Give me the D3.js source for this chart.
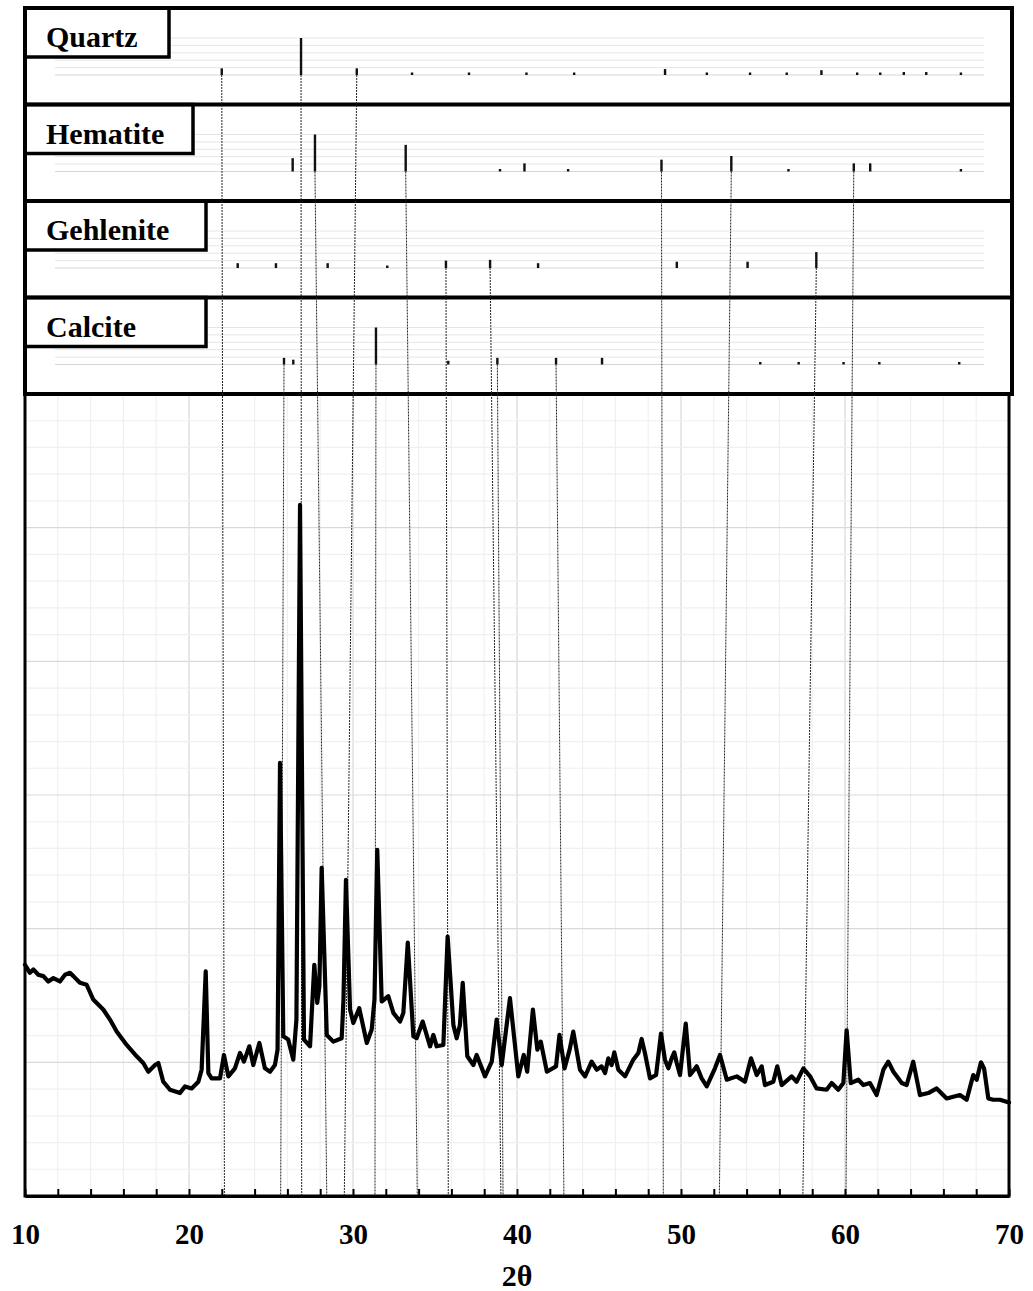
<!DOCTYPE html>
<html>
<head>
<meta charset="utf-8">
<script src="https://cdn.jsdelivr.net/npm/d3@7"></script>
<style>
  body { margin: 0; background: #fff; }
  text { font-family: "Liberation Serif", "Times New Roman", serif; font-weight: bold; fill: #000; }
</style>
</head>
<body>
<div id="drawing_region"></div>
<script>
const two_theta = [
    10.00, 10.30, 10.51, 10.81, 11.12, 11.42, 11.73, 12.13, 12.44, 12.74,
    12.95, 13.35, 13.76, 14.16, 14.77, 15.18, 15.59, 16.20, 16.81, 17.21,
    17.52, 17.93, 18.13, 18.43, 18.84, 19.45, 19.76, 20.16, 20.57, 20.77,
    21.02, 21.18, 21.38, 21.89, 22.13, 22.40, 22.80, 23.11, 23.35, 23.68,
    23.92, 24.29, 24.63, 24.94, 25.24, 25.40, 25.55, 25.75, 26.05, 26.36,
    26.55, 26.77, 27.01, 27.38, 27.64, 27.82, 27.95, 28.09, 28.40, 28.80,
    29.31, 29.42, 29.57, 29.82, 30.02, 30.38, 30.84, 31.14, 31.31, 31.48,
    31.75, 32.15, 32.46, 32.87, 33.07, 33.34, 33.68, 33.88, 34.25, 34.70,
    34.90, 35.10, 35.51, 35.77, 36.12, 36.32, 36.52, 36.69, 36.97, 37.34,
    37.54, 38.05, 38.46, 38.76, 39.07, 39.57, 40.08, 40.41, 40.62, 40.97,
    41.24, 41.45, 41.82, 42.38, 42.59, 42.90, 43.21, 43.43, 43.84, 44.15,
    44.55, 44.86, 45.16, 45.37, 45.57, 45.77, 45.93, 46.18, 46.59, 47.09,
    47.40, 47.60, 47.80, 48.11, 48.48, 48.78, 49.02, 49.23, 49.43, 49.59,
    49.74, 49.94, 50.29, 50.55, 50.96, 51.26, 51.57, 52.07, 52.38, 52.79,
    53.40, 53.90, 54.27, 54.62, 54.92, 55.12, 55.63, 55.87, 56.14, 56.75,
    57.05, 57.46, 57.87, 58.27, 58.88, 59.19, 59.59, 59.90, 60.10, 60.35,
    60.81, 61.12, 61.52, 61.93, 62.34, 62.64, 62.95, 63.46, 63.76, 64.16,
    64.57, 65.08, 65.59, 66.20, 67.01, 67.42, 67.82, 68.03, 68.29, 68.48,
    68.74, 69.04, 69.45, 70.00
];
const counts = [
    1730, 1670, 1695, 1655, 1645, 1605, 1630, 1605, 1655, 1670,
    1645, 1595, 1580, 1470, 1395, 1320, 1230, 1130, 1045, 995,
    930, 980, 995, 855, 795, 770, 820, 805, 855, 945,
    1680, 920, 880, 880, 1055, 895, 955, 1070, 1005, 1120,
    980, 1145, 955, 930, 980, 1095, 3240, 1195, 1170, 1020,
    1320, 5170, 1170, 1120, 1730, 1445, 1570, 2455, 1205, 1155,
    1180, 1470, 2365, 1395, 1295, 1405, 1145, 1245, 1470, 2590,
    1455, 1495, 1370, 1305, 1370, 1895, 1195, 1180, 1305, 1120,
    1205, 1120, 1130, 1940, 1280, 1180, 1280, 1595, 1045, 980,
    1055, 895, 1005, 1320, 980, 1480, 895, 1055, 930, 1395,
    1095, 1155, 930, 970, 1205, 955, 1095, 1230, 945, 895,
    1005, 945, 970, 920, 1030, 980, 1075, 945, 895, 1020,
    1070, 1175, 1070, 880, 905, 1215, 1020, 955, 1030, 1075,
    995, 905, 1290, 905, 970, 880, 820, 955, 1055, 870,
    895, 855, 1030, 905, 970, 830, 855, 970, 830, 895,
    855, 955, 895, 805, 795, 845, 795, 845, 1240, 845,
    870, 830, 845, 755, 945, 1005, 930, 845, 830, 1005,
    755, 770, 805, 730, 755, 720, 905, 870, 1000, 955,
    730, 720, 720, 700
];

// reference sticks: position and relative intensity (%)
const quartz_pos = [20.77, 25.89, 29.49, 33.06, 36.74, 40.45, 43.53, 49.40, 52.10, 54.89, 57.26, 59.50, 61.81, 63.30, 64.82, 66.27, 68.51];
const quartz_int = [18, 100, 18, 5, 5, 6, 4, 16, 4, 4, 4, 13, 4, 4, 8, 8, 4];
const hematite_pos = [25.35, 26.79, 32.65, 38.74, 40.32, 43.14, 49.17, 53.68, 57.37, 61.59, 62.65, 68.51];
const hematite_int = [36, 100, 72, 4, 22, 4, 32, 42, 4, 22, 22, 4];
const gehlenite_pos = [21.80, 24.27, 27.61, 31.46, 35.25, 38.10, 41.20, 50.16, 54.73, 59.17];
const gehlenite_int = [13, 13, 13, 4, 20, 22, 13, 17, 17, 43];
const calcite_pos = [24.79, 25.39, 30.73, 35.40, 38.57, 42.36, 45.33, 55.55, 58.03, 60.93, 63.24, 68.40];
const calcite_int = [18, 13, 100, 10, 18, 18, 18, 4, 4, 3, 3, 3];

const phase_names = ['Quartz', 'Hematite', 'Gehlenite', 'Calcite'];

// guide lines: phase, stick position, matching position on the pattern
const guide_phase = ['Quartz', 'Calcite', 'Quartz', 'Hematite', 'Quartz', 'Calcite', 'Hematite', 'Gehlenite',
                     'Gehlenite', 'Calcite', 'Calcite', 'Hematite', 'Hematite', 'Gehlenite', 'Hematite'];
const guide_from = [20.77, 24.79, 25.89, 26.79, 29.49, 30.73, 32.65, 35.25, 38.10, 38.57, 42.36, 49.17, 53.68, 59.17, 61.59];
const guide_to = [22.16, 25.59, 26.87, 28.40, 29.47, 31.34, 33.92, 35.81, 39.02, 39.15, 42.86, 48.92, 52.34, 57.43, 60.06];

const x_labels = [10, 20, 30, 40, 50, 60, 70];

// layout
const W = 1033, H = 1291;
const left = 25, right = 1009;
const plot_top = 394, plot_bottom = 1196;
const panel_top = 8, panel_right = 1012;
const box_w = [144, 168, 181, 181];

const phases = {
    Quartz: [quartz_pos, quartz_int],
    Hematite: [hematite_pos, hematite_int],
    Gehlenite: [gehlenite_pos, gehlenite_int],
    Calcite: [calcite_pos, calcite_int]
};

const svg = d3.select('#drawing_region')
    .append('svg')
    .attr('width', W)
    .attr('height', H);

// ---- reference panels ----
const band = d3.scaleBand().domain(phase_names).range([panel_top, plot_top]);
const px = d3.scaleLinear().domain([10, 70]).range([55, 984]);

phase_names.forEach((name, k) => {
    const top = band(name);
    const base = top + 67;
    const ys = d3.scaleLinear().domain([0, 100]).range([base, base - 37]);
    const g = svg.append('g');

    g.selectAll('line.grid')
        .data(d3.range(0, 101, 20))
        .join('line')
        .attr('x1', 55).attr('x2', 984)
        .attr('y1', d => ys(d)).attr('y2', d => ys(d))
        .attr('stroke', d => d === 0 ? '#d6d6d6' : '#e6e6e6')
        .attr('stroke-width', 1);

    const [pos, rel] = phases[name];
    g.selectAll('rect.stick')
        .data(pos.map((p, i) => ({ p: p, v: rel[i] })))
        .join('rect')
        .attr('x', d => px(d.p) - 1.2)
        .attr('width', 2.4)
        .attr('y', d => Math.min(ys(d.v), base - 2.5))
        .attr('height', d => Math.max(base - ys(d.v), 2.5))
        .attr('fill', '#111');

    g.append('rect')
        .attr('x', left).attr('y', top)
        .attr('width', box_w[k]).attr('height', 49)
        .attr('fill', '#fff')
        .attr('stroke', '#000')
        .attr('stroke-width', 3.5);

    g.append('text')
        .attr('x', 46).attr('y', top + 39)
        .attr('font-size', 30)
        .text(name);
});

// ---- main pattern ----
const x = d3.scaleLinear().domain([10, 70]).range([left, right]);
const y = d3.scaleLinear().domain([0, 6000]).range([plot_bottom, plot_top]);

const grid = svg.append('g');
grid.selectAll('line.vx')
    .data(d3.range(12, 70, 2))
    .join('line')
    .attr('x1', d => x(d)).attr('x2', d => x(d))
    .attr('y1', plot_top).attr('y2', plot_bottom)
    .attr('stroke', d => d % 10 === 0 ? '#d9d9d9' : '#f0f0f0')
    .attr('stroke-width', 1.2);
grid.selectAll('line.hy')
    .data(d3.range(200, 6000, 200))
    .join('line')
    .attr('x1', left).attr('x2', right)
    .attr('y1', d => y(d)).attr('y2', d => y(d))
    .attr('stroke', d => d % 1000 === 0 ? '#d9d9d9' : '#f0f0f0')
    .attr('stroke-width', 1.2);

// frames
svg.append('rect')
    .attr('x', left).attr('y', panel_top)
    .attr('width', panel_right - left).attr('height', plot_top - panel_top)
    .attr('fill', 'none').attr('stroke', '#000').attr('stroke-width', 4);
svg.selectAll('line.sep')
    .data(phase_names.slice(1))
    .join('line')
    .attr('x1', left).attr('x2', panel_right)
    .attr('y1', d => band(d)).attr('y2', d => band(d))
    .attr('stroke', '#000').attr('stroke-width', 4);
svg.append('rect')
    .attr('x', left).attr('y', plot_top)
    .attr('width', right - left).attr('height', plot_bottom - plot_top)
    .attr('fill', 'none').attr('stroke', '#000').attr('stroke-width', 3);

// dotted guide lines
svg.selectAll('line.guide')
    .data(guide_from.map((f, i) => ({ ph: guide_phase[i], f: f, t: guide_to[i] })))
    .join('line')
    .attr('x1', d => px(d.f)).attr('y1', d => band(d.ph) + 67)
    .attr('x2', d => x(d.t)).attr('y2', plot_bottom)
    .attr('stroke', '#222')
    .attr('stroke-width', 1)
    .attr('stroke-dasharray', '2,1');

// pattern line
const line = d3.line()
    .x((d, i) => x(two_theta[i]))
    .y(d => y(d));
svg.append('path')
    .datum(counts)
    .attr('d', line)
    .attr('fill', 'none')
    .attr('stroke', '#000')
    .attr('stroke-width', 4.2)
    .attr('stroke-linejoin', 'round')
    .attr('stroke-linecap', 'round');

// bottom axis
const xaxis = d3.axisBottom(x)
    .tickValues(d3.range(10, 71, 2))
    .tickSizeInner(-7)
    .tickSizeOuter(0)
    .tickPadding(27)
    .tickFormat(d => x_labels.includes(d) ? d : '');
const xaxis_group = svg.append('g')
    .attr('transform', `translate(0, ${plot_bottom})`)
    .call(xaxis);
xaxis_group.select('.domain').attr('stroke-width', 3);
xaxis_group.selectAll('.tick line').attr('stroke-width', 2);
xaxis_group.selectAll('.tick text')
    .attr('font-size', 29)
    .attr('font-family', '"Liberation Serif", "Times New Roman", serif')
    .attr('font-weight', 'bold');

svg.append('text')
    .attr('x', x(40)).attr('y', 1286)
    .attr('text-anchor', 'middle')
    .attr('font-size', 30)
    .text('2θ');
</script>
</body>
</html>
